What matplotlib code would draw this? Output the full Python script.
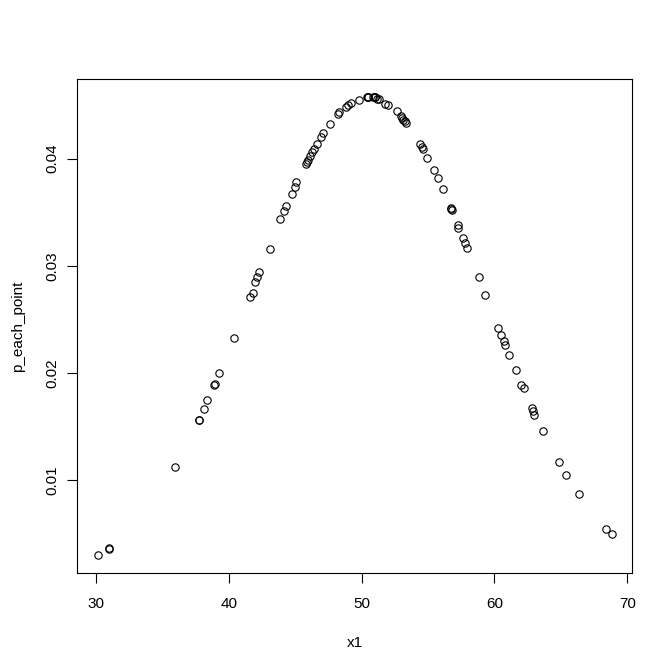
import numpy as np
import matplotlib
matplotlib.use("Agg")
import matplotlib.pyplot as plt

# points (x1, p_each_point)
x1 = [30.13, 30.96, 31.02, 35.94, 37.75, 37.8, 38.13, 38.4, 38.9, 38.95,
      39.27, 40.4, 41.6, 41.8, 41.99, 42.16, 42.3, 43.14, 43.9, 44.2,
      44.35, 44.76, 44.96, 45.1, 45.84, 45.88, 45.97, 46.12, 46.27, 46.42,
      46.62, 46.92, 47.12, 47.63, 48.23, 48.33, 48.84, 48.99, 49.18, 49.84,
      50.42, 50.46, 50.52, 50.9, 51.0, 51.05, 51.15, 51.3, 51.8, 52.0,
      52.66, 52.96, 53.06, 53.16, 53.26, 53.36, 54.37, 54.52, 54.62, 54.92,
      55.43, 55.73, 56.13, 56.7, 56.76, 56.8, 57.25, 57.3, 57.64, 57.8,
      57.95, 58.85, 59.3, 60.26, 60.5, 60.7, 60.8, 61.1, 61.6, 62.0,
      62.2, 62.8, 62.93, 63.0, 63.64, 64.9, 65.4, 66.4, 68.37, 68.82]
p_each_point = [0.00308, 0.00364, 0.00368, 0.0113, 0.0156, 0.0156, 0.0167, 0.0175, 0.0189, 0.0190,
                0.0200, 0.0233, 0.0271, 0.0275, 0.0285, 0.0290, 0.0294, 0.0316, 0.0344, 0.0351,
                0.0356, 0.0367, 0.0374, 0.0378, 0.0395, 0.0397, 0.0399, 0.0402, 0.0406, 0.0409,
                0.0414, 0.0420, 0.0424, 0.0432, 0.0442, 0.0443, 0.0448, 0.0450, 0.0452, 0.0455,
                0.0457, 0.0457, 0.0457, 0.0457, 0.0457, 0.0457, 0.0456, 0.0456, 0.0451, 0.0450,
                0.0444, 0.0440, 0.0438, 0.0436, 0.0435, 0.0433, 0.0414, 0.0411, 0.0409, 0.0401,
                0.0389, 0.0382, 0.0372, 0.0354, 0.0353, 0.0352, 0.0338, 0.0335, 0.0326, 0.0321,
                0.0317, 0.0290, 0.0273, 0.0242, 0.0236, 0.0230, 0.0226, 0.0217, 0.0203, 0.0189,
                0.0186, 0.0168, 0.0165, 0.0161, 0.0146, 0.0117, 0.0105, 0.0087, 0.00549, 0.00505]

plt.rcParams['font.family'] = ['Liberation Sans', 'DejaVu Sans']
plt.rcParams['font.size'] = 11

fig = plt.figure(figsize=(6.72, 6.71), dpi=100)
ax = fig.add_axes([0.1146, 0.146, 0.826, 0.736])

ax.plot(x1, p_each_point, linestyle='none', marker='o', ms=5.3,
        mfc='none', mec='black', mew=0.8)
ax.margins(0.04)

ax.set_xticks([30, 40, 50, 60, 70])
ax.set_yticks([0.01, 0.02, 0.03, 0.04])
ax.set_yticklabels(['0.01', '0.02', '0.03', '0.04'], rotation=90, va='center')
ax.tick_params(direction='out', length=7, width=0.8, colors='black')
ax.tick_params(axis='x', pad=10)
ax.tick_params(axis='y', pad=6)
for s in ax.spines.values():
    s.set_linewidth(0.8)

ax.set_xlabel('x1', labelpad=18)
ax.set_ylabel('p_each_point', labelpad=14)

fig.savefig('out.png', dpi=100)
